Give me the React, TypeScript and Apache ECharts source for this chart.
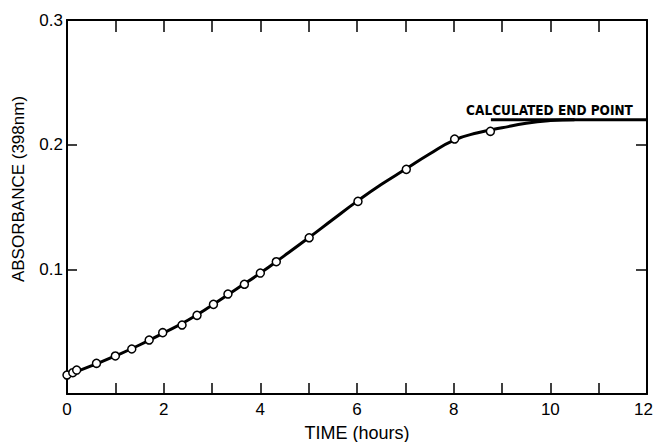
import React, { useEffect, useRef } from "react";
import * as echarts from "echarts";

const pointTimes = [0, 0.12, 0.2, 0.61, 1.0, 1.34, 1.7, 1.98, 2.38, 2.69, 3.03, 3.33, 3.67, 4.0, 4.33, 5.01, 6.02, 7.02, 8.02, 8.76];
const pointAbs = [0.0152, 0.0171, 0.0192, 0.0246, 0.0305, 0.0361, 0.0433, 0.0492, 0.0553, 0.0631, 0.0719, 0.0802, 0.088, 0.097, 0.1061, 0.1253, 0.1545, 0.1802, 0.2045, 0.2107];

const curveTimes = [0, 0.5, 1, 1.5, 2, 2.5, 3, 3.5, 4, 4.5, 5, 5.5, 6, 6.5, 7, 7.5, 8, 8.5, 9, 9.5, 10, 10.5];
const curveAbs = [0.015, 0.0225, 0.0305, 0.0393, 0.049, 0.0592, 0.0712, 0.084, 0.097, 0.111, 0.1253, 0.14, 0.1545, 0.168, 0.1802, 0.1925, 0.2035, 0.2095, 0.2135, 0.2172, 0.2193, 0.22];

const endPointTimes = [8.77, 12];
const endPointAbs = [0.22, 0.22];

const xTitle = "TIME (hours)";
const yTitle = "ABSORBANCE (398nm)";
const endLabel = "CALCULATED END POINT";

const FONT = "'Liberation Sans', Arial, Helvetica, sans-serif";

const mkLine = () => ({ show: true, onZero: false, lineStyle: { color: "#000", width: 2 } });
const mkTick = (len: number) => ({ show: true, inside: true, length: len, lineStyle: { color: "#000", width: 1.5 } });

export default function App() {
  const ref = useRef<HTMLDivElement>(null);
  useEffect(() => {
    if (!ref.current) return;
    const chart = echarts.init(ref.current, null, { renderer: "svg" });
    chart.setOption({
      animation: false,
      backgroundColor: "#fff",
      grid: { left: 67, right: 7, top: 20, bottom: 48, containLabel: false, outerBoundsMode: "none" },
      xAxis: [
        {
          type: "value",
          position: "bottom",
          min: 0,
          max: 12,
          interval: 1,
          axisLine: mkLine(),
          axisTick: mkTick(11),
          axisLabel: {
            color: "#000",
            fontSize: 17,
            fontFamily: FONT,
            margin: 7,
            formatter: (v: number) => (v === 12 ? "{e|12}" : v % 2 === 0 ? String(v) : ""),
            rich: {
              e: { color: "#000", fontSize: 17, fontFamily: FONT, padding: [0, 7, 0, 0] },
            },
          },
          splitLine: { show: false },
          name: xTitle,
          nameLocation: "middle",
          nameGap: 30,
          nameTextStyle: { color: "#000", fontSize: 18, fontFamily: FONT },
        },
        {
          type: "value",
          position: "top",
          min: 0,
          max: 12,
          interval: 1,
          axisLine: mkLine(),
          axisTick: mkTick(12),
          axisLabel: { show: false },
          splitLine: { show: false },
        },
      ],
      yAxis: [
        {
          type: "value",
          position: "left",
          min: 0,
          max: 0.3,
          interval: 0.1,
          axisLine: mkLine(),
          axisTick: mkTick(10),
          axisLabel: {
            color: "#000",
            fontSize: 17,
            fontFamily: FONT,
            margin: 4,
            formatter: (v: number) => (v === 0 ? "" : v.toFixed(1)),
          },
          splitLine: { show: false },
        },
        {
          type: "value",
          position: "right",
          min: 0,
          max: 0.3,
          interval: 0.1,
          axisLine: mkLine(),
          axisTick: mkTick(11),
          axisLabel: { show: false },
          splitLine: { show: false },
        },
      ],
      graphic: [
        {
          type: "text",
          x: 18.5,
          y: 189,
          rotation: Math.PI / 2,
          style: {
            text: yTitle,
            fill: "#000",
            font: `17px ${FONT}`,
            textAlign: "center",
            textVerticalAlign: "middle",
          },
        },
        {
          type: "text",
          x: 549.5,
          y: 110,
          style: {
            text: endLabel,
            fill: "#000",
            font: `bold 13.5px 'DejaVu Sans Condensed', 'DejaVu Sans', sans-serif`,
            textAlign: "center",
            textVerticalAlign: "middle",
          },
        },
      ],
      series: [
        {
          type: "line",
          data: curveTimes.map((t, i) => [t, curveAbs[i]]),
          smooth: 0.5,
          showSymbol: false,
          lineStyle: { color: "#000", width: 3 },
          z: 2,
        },
        {
          type: "line",
          data: endPointTimes.map((t, i) => [t, endPointAbs[i]]),
          showSymbol: false,
          lineStyle: { color: "#000", width: 3 },
          z: 2,
        },
        {
          type: "scatter",
          data: pointTimes.map((t, i) => [t, pointAbs[i]]),
          symbol: "circle",
          symbolSize: 8,
          itemStyle: { color: "#fff", borderColor: "#000", borderWidth: 1.5, opacity: 1 },
          z: 3,
        },
      ],
    });
    return () => chart.dispose();
  }, []);
  return <div ref={ref} style={{ width: 654, height: 442, position: "absolute", left: 0, top: 0 }} />;
}
